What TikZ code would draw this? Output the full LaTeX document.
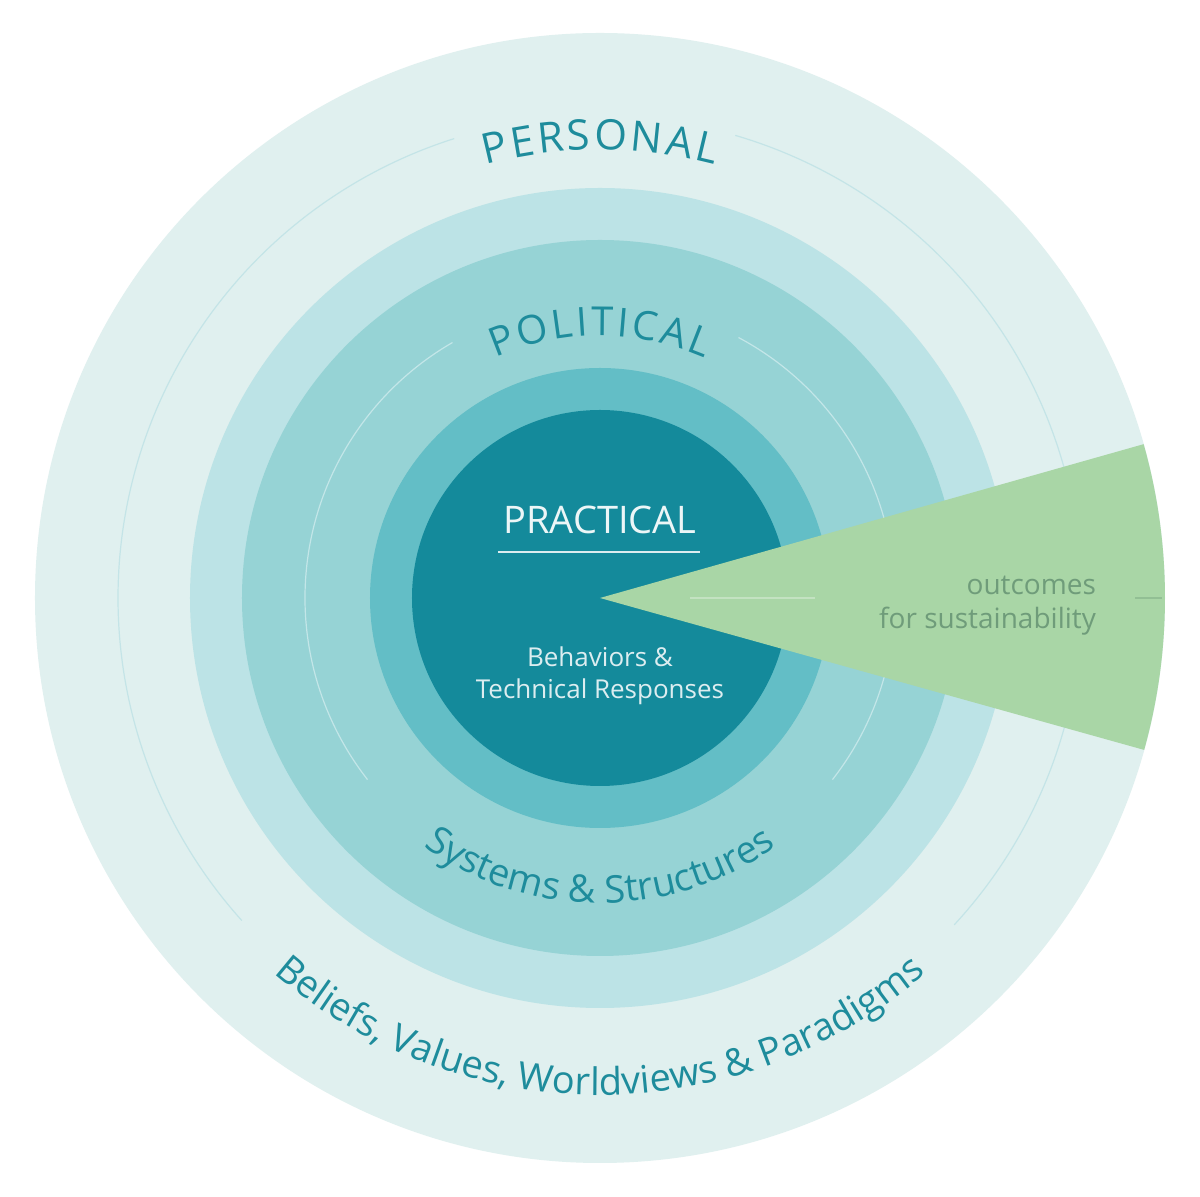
\documentclass[tikz,border=0pt]{standalone}
\usepackage{fontspec}
\setmainfont{Open Sans}
\usetikzlibrary{decorations.text}
\definecolor{c1}{HTML}{E0F0EF}
\definecolor{c2}{HTML}{BCE3E6}
\definecolor{c3}{HTML}{96D3D5}
\definecolor{c4}{HTML}{63BEC6}
\definecolor{c5}{HTML}{148A9B}
\definecolor{tealtxt}{HTML}{1E8C9C}
\definecolor{wedge}{HTML}{A9D6A6}
\definecolor{wtxt}{HTML}{6F9C7A}
\tikzset{
  thinring/.style={draw=#1, line width=0.6pt},
}
\begin{document}
\begin{tikzpicture}[x=0.5pt,y=0.5pt]
\useasboundingbox (-600,-599) rectangle (600,598);
\fill[white] (-600,-599) rectangle (600,598);
\fill[c1] (0,0) circle (565);
\fill[c2] (0,0) circle (410);
\fill[c3] (0,0) circle (358);
\fill[c4] (0,0) circle (230);
\fill[c5] (0,0) circle (188);
% thin rings
\draw[thinring=c2!80!tealtxt!60] (107.6:482) arc (107.6:222:482);
\draw[thinring=c2!80!tealtxt!60] (-42.7:482) arc (-42.7:73.7:482);
\draw[thinring=c2!90!white] (120:295) arc (120:218:295);
\draw[thinring=c2!90!white] (-38:295) arc (-38:62:295);
% wedge
\fill[wedge] (0,0) -- (-15.6:565) arc (-15.6:15.8:565) -- cycle;
\draw[wedge!70!white, line width=0.6pt] (90,0) -- (215,0);
\draw[wedge!60!wtxt, line width=0.6pt] (535,0) -- (562,0);
% curved texts
\path[decorate, decoration={text along path, text align=center, text color=tealtxt,
  text={|\fontsize{21}{21}\selectfont|P{\kern1.5pt}E{\kern1.5pt}R{\kern1.5pt}S{\kern1.5pt}O{\kern1.5pt}N{\kern1.5pt}A{\kern1.5pt}L}}] (120:448) arc (120:60:448);
\path[decorate, decoration={text along path, text align=center, text color=tealtxt,
  text={|\fontsize{20}{20}\selectfont|P{\kern1.5pt}O{\kern1.5pt}L{\kern1.5pt}I{\kern1.5pt}T{\kern1.5pt}I{\kern1.5pt}C{\kern1.5pt}A{\kern1.5pt}L}}] (140:262) arc (140:40:262);
\path[decorate, decoration={text along path, text align=center, text color=tealtxt,
  text={|\fontsize{19}{19}\selectfont|Systems {\&} Structures}}] (195:305) arc (195:345:305);
\path[decorate, decoration={text along path, text align=center, text color=tealtxt,
  text={|\fontsize{19}{19}\selectfont|Beliefs, Values, Worldviews {\&} Paradigms}}] (195:497) arc (195:345:497);
% center text
\node[text=white!92!c5, font=\fontsize{19}{19}\selectfont] (prac) at (0,78) {PRACTICAL};
\draw[white!85!c5, line width=0.8pt] (-102,46) -- (100,46);
\node[text=white!85!c5, font=\fontsize{13}{16}\selectfont, align=center] (beh) at (0,-78) {Behaviors \&\\Technical Responses};
\node[text=wtxt, font=\fontsize{14}{17}\selectfont, align=right, anchor=east] (out) at (503,-8) {outcomes\\for sustainability};
\end{tikzpicture}
\end{document}
